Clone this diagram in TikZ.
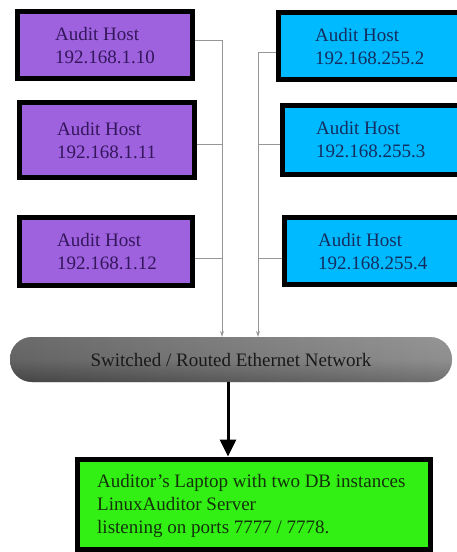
\documentclass[tikz,border=0pt]{standalone}
\usepackage{fontspec}
\setmainfont{Liberation Serif}
\usetikzlibrary{arrows.meta}
\definecolor{hostpurple}{RGB}{158,98,222}
\definecolor{hostcyan}{RGB}{0,186,255}
\definecolor{laptopgreen}{RGB}{50,240,20}
\definecolor{purpletext}{RGB}{52,22,92}
\definecolor{cyantext}{RGB}{20,45,95}
\definecolor{greentext}{RGB}{20,50,10}
\definecolor{buscolor}{RGB}{150,150,150}
\begin{document}
\begin{tikzpicture}[x=1pt,y=-1pt,
  hostbox/.style={draw=black,line width=5pt,inner sep=0pt},
  purplebox/.style={hostbox,fill=hostpurple},
  cyanbox/.style={hostbox,fill=hostcyan},
  lbl/.style={anchor=west,align=left,inner sep=0pt,
    font=\fontsize{19}{23}\selectfont},
  bus/.style={draw=buscolor,line width=0.9pt},
  busarrow/.style={bus,-{Stealth[length=6pt,width=4pt]}},
  pill/.style={rounded corners=22pt,minimum width=442pt,minimum height=45pt,
    inner sep=0pt,left color=black!70,right color=black!40,
    path picture={\fill[top color=white,bottom color=black!60,middle color=black!10,opacity=0.25]
      (path picture bounding box.south west) rectangle
      (path picture bounding box.north east);},
    font=\fontsize{19}{23}\selectfont,text=black!90},
  bigarrow/.style={draw=black,line width=3pt,
    -{Triangle[length=17pt,width=16pt]}}
]
\useasboundingbox (0,0) rectangle (457,552);
\clip (0,0) rectangle (457,552);
\fill[white] (0,0) rectangle (457,552);

% left column of audit hosts
\node[purplebox,minimum width=175pt,minimum height=67pt] (L1) at (105,45) {};
\node[purplebox,minimum width=175pt,minimum height=75pt] (L2) at (107,140) {};
\node[purplebox,minimum width=173pt,minimum height=68pt] (L3) at (106,251.5) {};
\node[lbl,text=purpletext] (tL1) at (55,46) {Audit Host\\192.168.1.10};
\node[lbl,text=purpletext] (tL2) at (57,141) {Audit Host\\192.168.1.11};
\node[lbl,text=purpletext] (tL3) at (57,252) {Audit Host\\192.168.1.12};

% right column of audit hosts (running past the right edge)
\node[cyanbox,minimum width=190pt,minimum height=67pt] (R1) at (373.5,46) {};
\node[cyanbox,minimum width=186pt,minimum height=69pt] (R2) at (375.5,140) {};
\node[cyanbox,minimum width=184pt,minimum height=67pt] (R3) at (376.5,251) {};
\node[lbl,text=cyantext] (tR1) at (315,47) {Audit Host\\192.168.255.2};
\node[lbl,text=cyantext] (tR2) at (316,140) {Audit Host\\192.168.255.3};
\node[lbl,text=cyantext] (tR3) at (318,252) {Audit Host\\192.168.255.4};

% network backbone
\node[pill] (net) at (231,359.5) {Switched / Routed Ethernet Network};

% auditor laptop
\node[draw=black,line width=5pt,fill=laptopgreen,minimum width=353pt,
  minimum height=90pt,inner sep=0pt] (lap) at (254,504) {};
\node[lbl,text=greentext] (tlap) at (97,506)
  {Auditor's Laptop with two DB instances\\LinuxAuditor Server\\listening on ports 7777 / 7778.};

% bus taps
\coordinate (lb1) at (222,40);
\coordinate (lb2) at (222,144);
\coordinate (lb3) at (222,258);
\coordinate (rb1) at (258,52);
\coordinate (rb2) at (258,144);
\coordinate (rb3) at (258,258);
\draw[bus] (L1.east |- lb1) -- (lb1);
\draw[bus] (L2.east |- lb2) -- (lb2);
\draw[bus] (L3.east |- lb3) -- (lb3);
\draw[bus] (R1.west |- rb1) -- (rb1);
\draw[bus] (R2.west |- rb2) -- (rb2);
\draw[bus] (R3.west |- rb3) -- (rb3);
\draw[busarrow] (lb1) -- (lb1 |- net.north);
\draw[busarrow] (rb1) -- (rb1 |- net.north);

% link from network to laptop
\draw[bigarrow] (228,382) -- (lap.north -| 228,0);
\end{tikzpicture}
\end{document}
